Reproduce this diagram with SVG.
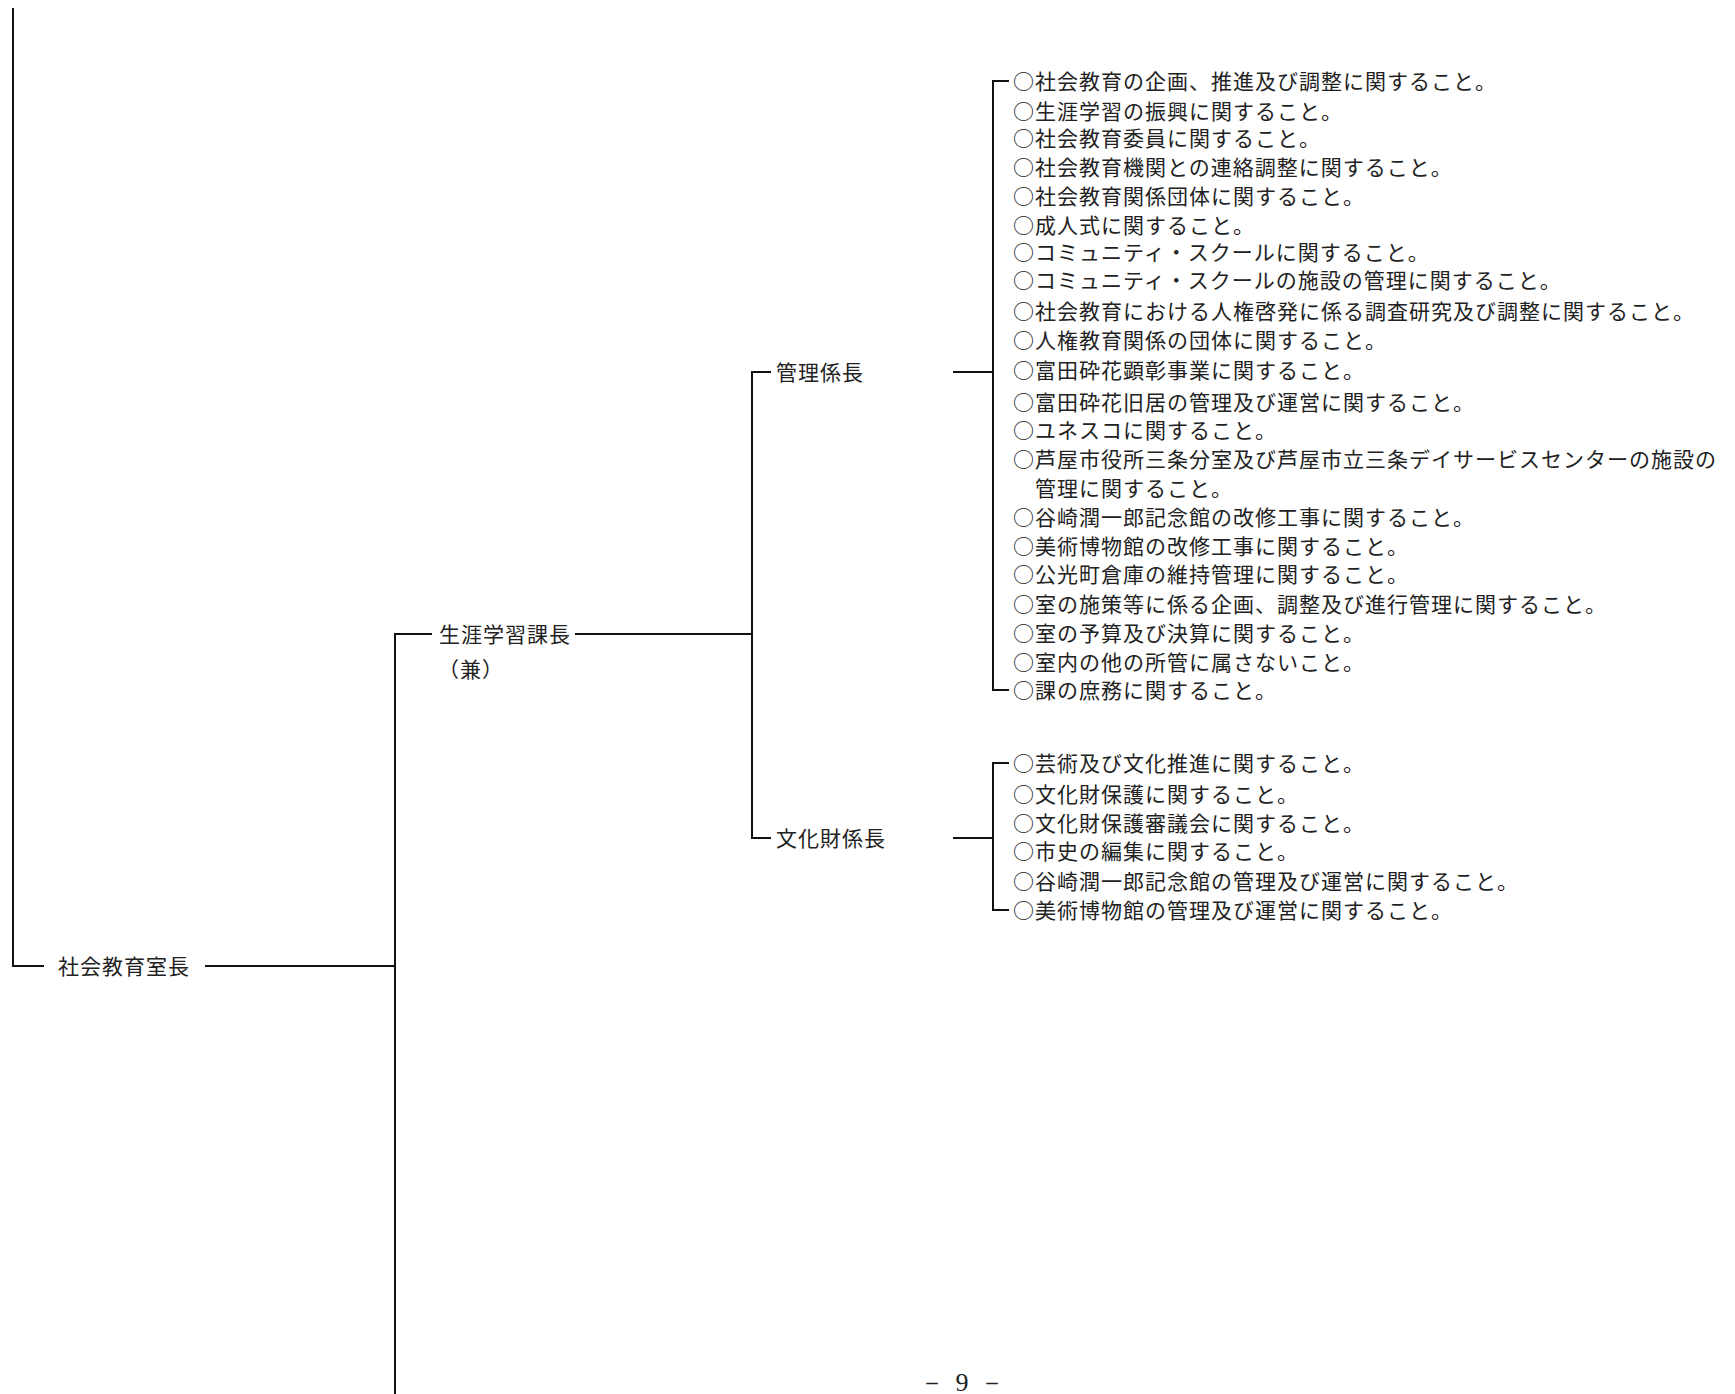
<svg xmlns="http://www.w3.org/2000/svg" width="1735" height="1394" viewBox="0 0 1735 1394">
<style>
text { font-family: "Noto Sans CJK JP", "Noto Sans CJK SC", sans-serif; font-size: 21px; letter-spacing: 1px; fill: #222; }
.pg { font-family: "Liberation Serif", serif; font-size: 26px; letter-spacing: 2px; }
.ln { stroke: #111; stroke-width: 2; fill: none; }
</style>
<rect width="1735" height="1394" fill="#fff"/>
<g id="connectors" class="ln">
  <path d="M13 8 V966 H44"/>
  <path d="M205 966 H395"/>
  <path d="M395 1394 V634 H432"/>
  <path d="M575 634 H752"/>
  <path d="M771 372 H752 V838 H771"/>
  <path d="M953 372 H993"/>
  <path d="M1009 81 H993 V690 H1009"/>
  <path d="M953 838 H993"/>
  <path d="M1009 763 H993 V910 H1009"/>
</g>
<g id="node-shakai-kyoiku-shitsucho">
  <text x="58" y="974">社会教育室長</text>
</g>
<g id="node-shogai-gakushu-kacho">
  <text x="439" y="642">生涯学習課長</text>
  <text x="438" y="677">（兼）</text>
</g>
<g id="node-kanri-kakaricho">
  <text x="776" y="380">管理係長</text>
</g>
<g id="node-kanri-duties">
  <text x="1013" y="89">○社会教育の企画、推進及び調整に関すること。</text>
  <text x="1013" y="119">○生涯学習の振興に関すること。</text>
  <text x="1013" y="146">○社会教育委員に関すること。</text>
  <text x="1013" y="175">○社会教育機関との連絡調整に関すること。</text>
  <text x="1013" y="204">○社会教育関係団体に関すること。</text>
  <text x="1013" y="233">○成人式に関すること。</text>
  <text x="1013" y="260">○コミュニティ・スクールに関すること。</text>
  <text x="1013" y="288">○コミュニティ・スクールの施設の管理に関すること。</text>
  <text x="1013" y="319">○社会教育における人権啓発に係る調査研究及び調整に関すること。</text>
  <text x="1013" y="348">○人権教育関係の団体に関すること。</text>
  <text x="1013" y="378">○富田砕花顕彰事業に関すること。</text>
  <text x="1013" y="410">○富田砕花旧居の管理及び運営に関すること。</text>
  <text x="1013" y="438">○ユネスコに関すること。</text>
  <text x="1013" y="467">○芦屋市役所三条分室及び芦屋市立三条デイサービスセンターの施設の</text>
  <text x="1035" y="496">管理に関すること。</text>
  <text x="1013" y="525">○谷崎潤一郎記念館の改修工事に関すること。</text>
  <text x="1013" y="554">○美術博物館の改修工事に関すること。</text>
  <text x="1013" y="582">○公光町倉庫の維持管理に関すること。</text>
  <text x="1013" y="612">○室の施策等に係る企画、調整及び進行管理に関すること。</text>
  <text x="1013" y="641">○室の予算及び決算に関すること。</text>
  <text x="1013" y="670">○室内の他の所管に属さないこと。</text>
  <text x="1013" y="698">○課の庶務に関すること。</text>
</g>
<g id="node-bunkazai-kakaricho">
  <text x="776" y="846">文化財係長</text>
</g>
<g id="node-bunkazai-duties">
  <text x="1013" y="771">○芸術及び文化推進に関すること。</text>
  <text x="1013" y="802">○文化財保護に関すること。</text>
  <text x="1013" y="831">○文化財保護審議会に関すること。</text>
  <text x="1013" y="859">○市史の編集に関すること。</text>
  <text x="1013" y="889">○谷崎潤一郎記念館の管理及び運営に関すること。</text>
  <text x="1013" y="918">○美術博物館の管理及び運営に関すること。</text>
</g>
<g id="page-number">
  <text class="pg" x="963" y="1391" text-anchor="middle">－ 9 －</text>
</g>
</svg>
